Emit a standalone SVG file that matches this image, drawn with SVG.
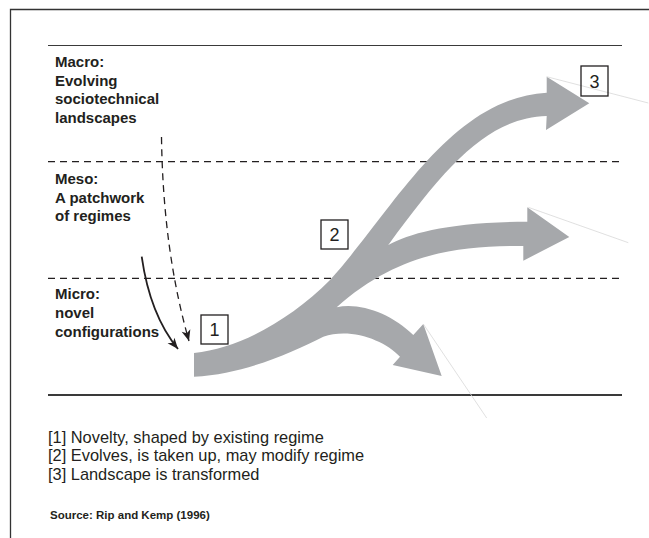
<svg xmlns="http://www.w3.org/2000/svg" width="649" height="538" viewBox="0 0 649 538">
<defs>
<style>
.lbl{font-family:"Liberation Sans",Arial,sans-serif;font-weight:bold;font-size:15px;fill:#231f20}
.num{font-family:"Liberation Sans",Arial,sans-serif;font-size:18px;fill:#231f20;text-anchor:middle}
.box{fill:none;stroke:#231f20;stroke-width:1.3}
.leg{font-family:"Liberation Sans",Arial,sans-serif;font-size:16.4px;fill:#231f20}
.src{font-family:"Liberation Sans",Arial,sans-serif;font-weight:bold;font-size:11.5px;fill:#231f20}
.dash{stroke:#231f20;stroke-width:1.3;stroke-dasharray:7 5;fill:none}
.solid{stroke:#3a3a3a;fill:none}
.thin{stroke:#d8d8d8;stroke-width:0.8;fill:none}
.flow{fill:#a6a8ab}
</style>
<marker id="ah" markerUnits="userSpaceOnUse" markerWidth="14" markerHeight="12" viewBox="-12 -6 14 12" refX="0" refY="0" orient="auto">
<path d="M0,0 L-11,-4.5 L-8,0 L-11,4.5 Z" fill="#231f20"/>
</marker>
</defs>

<g id="frame">
<path d="M10.5,538 V9.5 H649" stroke="#333" stroke-width="1.3" fill="none"/>
</g>

<g id="levels">
<line class="solid" x1="48" y1="45.5" x2="622" y2="45.5" stroke-width="1"/>
<line class="dash" x1="48" y1="161.7" x2="622" y2="161.7"/>
<line class="dash" x1="48" y1="278.3" x2="622" y2="278.3"/>
<line class="solid" x1="48" y1="395" x2="622" y2="395" stroke-width="1.8" stroke="#231f20"/>
</g>

<g id="level-labels">
<text class="lbl" x="55" y="67">Macro:</text>
<text class="lbl" x="55" y="85.5">Evolving</text>
<text class="lbl" x="55" y="104">sociotechnical</text>
<text class="lbl" x="55" y="122.5">landscapes</text>
<text class="lbl" x="55" y="183.5">Meso:</text>
<text class="lbl" x="55" y="202.5">A patchwork</text>
<text class="lbl" x="55" y="221">of regimes</text>
<text class="lbl" x="55" y="298.5">Micro:</text>
<text class="lbl" x="55" y="317.5">novel</text>
<text class="lbl" x="55" y="336.5">configurations</text>
</g>

<g id="flow">
<path class="flow" d="M194,353 C240,348 290,320 330,280 C392,212 450,98 546.7,92.7 L546.7,76.7 L589.3,103.3 L546,130 L546.7,116 C490,118 450,160 388.3,245 C410,233 450,222 527.3,221.7 L527.3,207.3 L569.3,237 L523.3,260.7 L523.3,246 C455,245 395,255 336.7,307.3 C360,302 392,314 413.3,335 L423.3,324 L441.7,376 L392.7,365 L400,356.7 C385,340 350,327 323.3,336.7 C290,353 245,374 194,376.7 Z"/>
<line class="thin" x1="546.7" y1="76.7" x2="648.3" y2="103"/>
<line class="thin" x1="528.3" y1="207.3" x2="628.3" y2="242.7"/>
<line class="thin" x1="423.3" y1="324" x2="486.7" y2="418"/>
</g>

<g id="connectors">
<path d="M141.7,256.7 Q150,315 178,349" stroke="#231f20" stroke-width="1.8" fill="none" marker-end="url(#ah)"/>
<path class="dash" d="M161.5,137 Q163,250 189,341" marker-end="url(#ah)"/>
</g>

<g id="node-1">
<rect class="box" x="201" y="315" width="27" height="29"/>
<text class="num" x="214.5" y="336">1</text>
</g>
<g id="node-2">
<rect class="box" x="321" y="220" width="27" height="29"/>
<text class="num" x="334.5" y="241">2</text>
</g>
<g id="node-3">
<rect class="box" x="581" y="66" width="27" height="30"/>
<text class="num" x="594.5" y="87.5">3</text>
</g>

<g id="legend">
<text class="leg" x="48" y="443">[1] Novelty, shaped by existing regime</text>
<text class="leg" x="48" y="461.3">[2] Evolves, is taken up, may modify regime</text>
<text class="leg" x="48" y="479.7">[3] Landscape is transformed</text>
<text class="src" x="50" y="519">Source: Rip and Kemp (1996)</text>
</g>
</svg>
